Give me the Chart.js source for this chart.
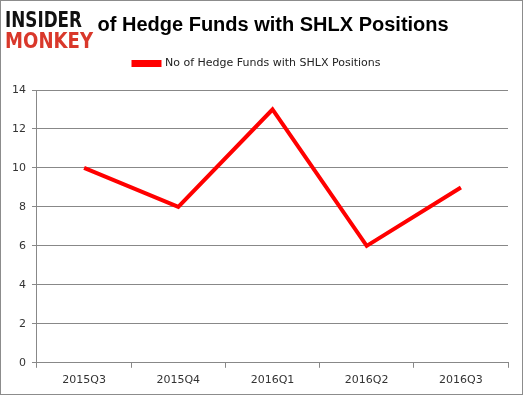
<!DOCTYPE html>
<html>
<head>
<meta charset="utf-8">
<script src="https://cdn.jsdelivr.net/npm/chart.js@4/dist/chart.umd.min.js"></script>
<style>
  body { margin: 0; background: #fff; }
  #wrap { width: 523px; height: 395px; position: relative; }
</style>
</head>
<body>
<div id="wrap"><canvas id="chart" width="523" height="395"></canvas></div>
<script>
var quarters = ['2015Q3', '2015Q4', '2016Q1', '2016Q2', '2016Q3'];
var fundCounts = [10, 8, 13, 6, 9];
var seriesName = 'No of Hedge Funds with SHLX Positions';

// logo + outer frame, drawn on top
var logoPlugin = {
  id: 'logo',
  afterDraw: function (chart) {
    var ctx = chart.ctx;
    ctx.save();
    ctx.fillStyle = '#fff';
    ctx.fillRect(3, 6, 92, 46);
    ctx.textBaseline = 'alphabetic';
    ctx.font = 'bold 21px "DejaVu Sans"';
    ctx.fillStyle = '#111';
    ctx.fillText('INSIDER', 5, 27, 77);
    ctx.fillStyle = '#d9382b';
    ctx.fillText('MONKEY', 5, 48, 88);
    ctx.strokeStyle = '#8c8c8c';
    ctx.lineWidth = 1;
    ctx.strokeRect(0.5, 0.5, 522, 394);
    ctx.restore();
  }
};

// extra room under the legend
var legendGap = {
  id: 'legendGap',
  beforeInit: function (chart) {
    var fit = chart.legend.fit;
    chart.legend.fit = function () {
      fit.bind(chart.legend)();
      this.height += 11;
    };
  }
};

var ctx = document.getElementById('chart').getContext('2d');
var chart = new Chart(ctx, {
  type: 'line',
  data: {
    labels: quarters,
    datasets: [
      {
        label: seriesName,
        data: fundCounts,
        borderColor: '#ff0000',
        backgroundColor: '#ff0000',
        borderWidth: 4,
        pointRadius: 0,
        tension: 0,
      },
    ],
  },
  options: {
    responsive: false,
    animation: false,
    layout: { padding: { left: 6, right: 15, top: 4, bottom: 2 } },
    plugins: {
      title: {
        display: true,
        text: seriesName,
        color: '#000',
        font: { family: '"Liberation Sans"', size: 20, weight: 'bold' },
        padding: { top: 9, bottom: 11 },
      },
      legend: {
        labels: {
          color: '#222',
          font: { family: '"DejaVu Sans"', size: 11 },
          boxWidth: 26,
          boxHeight: 3,
          padding: 10,
        },
      },
      tooltip: { enabled: false },
    },
    scales: {
      x: {
        offset: true,
        grid: {
          offset: true,
          drawOnChartArea: false,
          drawTicks: true,
          tickLength: 5,
          color: '#888',
        },
        border: { color: '#888' },
        ticks: { color: '#333', font: { family: '"DejaVu Sans"', size: 11 }, padding: 6 },
      },
      y: {
        min: 0,
        max: 14,
        ticks: { stepSize: 2, color: '#333', font: { family: '"DejaVu Sans"', size: 11 }, padding: 6 },
        grid: { color: '#888', tickLength: 5 },
        border: { color: '#888' },
      },
    },
  },
  plugins: [logoPlugin, legendGap],
});
</script>
</body>
</html>
